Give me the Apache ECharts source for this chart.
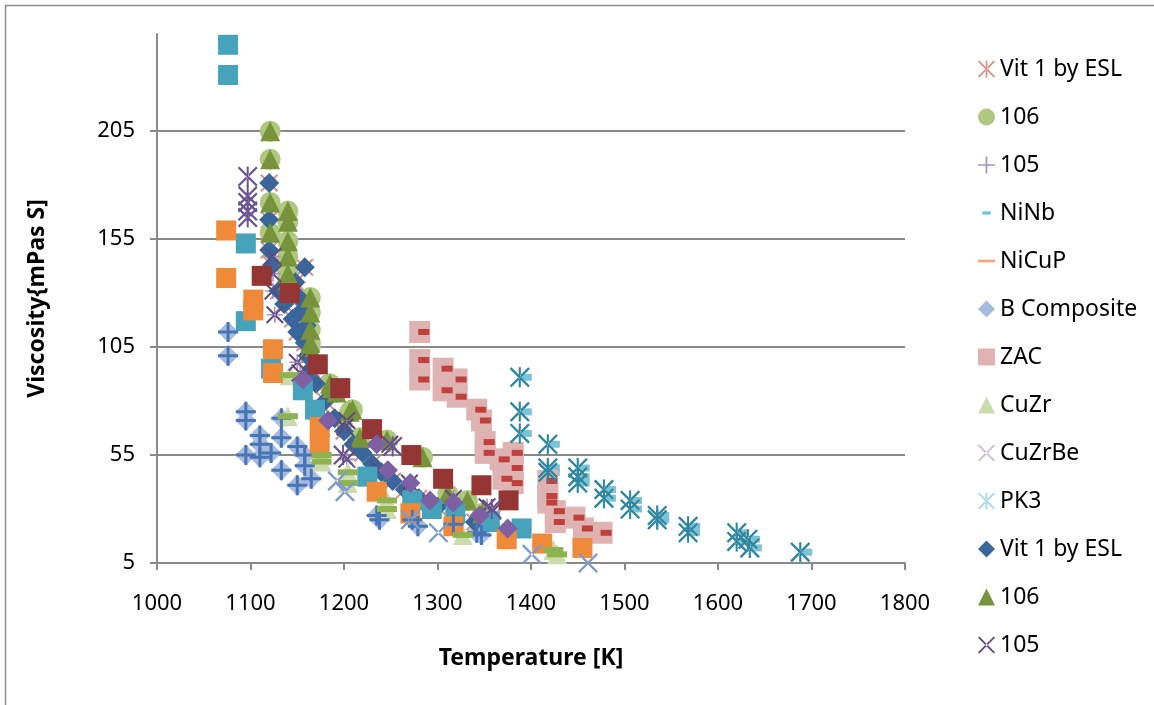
<!DOCTYPE html>
<html>
<head>
<meta charset="utf-8">
<script src="https://cdn.jsdelivr.net/npm/echarts@6/dist/echarts.min.js"></script>
<style>
    html, body { margin: 0; padding: 0; background: #fff; }
    #chart { width: 1154px; height: 705px; }
</style>
</head>
<body>
<div id="chart"></div>
<script>
// values: [Temperature K, Viscosity mPas s]
var vitEsl = [[1120,181],[1120,164],[1120,150],[1123,143],[1130,131],[1136,125],[1145,118],[1148,135],[1150,112],[1152,128],[1155,122],[1158,142],[1158,107],[1160,115],[1161,101],[1165,95],[1170,88],[1180,80],[1190,72],[1200,66],[1210,60],[1220,56],[1230,51],[1240,47],[1252,43],[1265,39],[1280,35],[1300,31],[1320,27],[1340,24]];
var g106 = [[1121,205],[1121,192],[1121,172],[1121,158],[1140,168],[1140,163],[1140,154],[1140,147],[1140,139],[1140,136],[1164,128],[1164,121],[1164,113],[1164,107],[1164,105],[1185,88],[1187,86],[1192,84],[1206,75],[1209,76],[1217,63],[1246,62],[1284,54],[1311,37],[1332,34],[1348,28]];
var p105x = [[1124,147],[1124,139],[1124,131],[1126,120],[1150,98],[1153,93],[1201,68],[1203,71],[1203,53],[1238,48],[1249,60],[1270,42],[1317,35],[1353,31],[1359,29]];
var p105star = [[1097,184],[1097,175],[1097,172],[1097,168],[1097,165],[1199,55],[1252,59],[1358,30]];
var p105dia = [[1156,90],[1183,71],[1235,60],[1247,48],[1271,42],[1292,34],[1317,33],[1345,27],[1375,21]];
var niNb = [[1076,245],[1076,231],[1095,153],[1095,117],[1122,95],[1156,85],[1169,76],[1225,45],[1273,34],[1294,30],[1319,28],[1356,24],[1390,21]];
var niCuP = [[1074,159],[1074,137],[1103,127],[1103,122],[1124,104],[1124,93],[1174,68],[1174,60],[1235,38],[1271,28],[1317,22],[1374,16],[1412,14],[1455,12]];
var bComp = [[1076,112],[1076,101],[1095,75],[1095,71],[1095,55],[1110,64],[1110,60],[1110,54],[1122,56],[1133,72],[1133,63],[1133,48],[1150,59],[1150,41],[1158,55],[1158,50],[1165,44],[1235,27],[1238,25],[1273,25],[1279,22],[1317,23],[1342,19],[1347,18]];
var zac = [[1281,112],[1281,99],[1281,90],[1306,95],[1306,85],[1321,90],[1321,82],[1342,76],[1347,71],[1351,61],[1351,56],[1367,53],[1370,44],[1381,56],[1381,49],[1381,42],[1418,43],[1418,36],[1418,33],[1426,29],[1426,24],[1447,26],[1456,21],[1476,19]];
var zacDark = [[1112,138],[1142,130],[1172,97],[1196,86],[1230,67],[1272,55],[1306,44],[1347,41],[1376,34]];
var cuZr = [[1142,92],[1140,73],[1176,55],[1176,52],[1204,47],[1204,42],[1246,34],[1246,30],[1327,18],[1424,11],[1428,9]];
var cuZrBe = [[1193,43],[1201,38],[1271,25],[1301,19],[1401,9],[1461,5]];
var pk3 = [[1388,91],[1388,75],[1388,65],[1418,60],[1418,49],[1418,47],[1450,49],[1450,45],[1450,42],[1478,39],[1478,35],[1506,34],[1506,30],[1535,27],[1535,25],[1568,22],[1568,19],[1620,19],[1620,15],[1632,16],[1634,12],[1688,10]];
var yTicks = [5, 55, 105, 155, 205];

// marker shapes (20x20 box)
var SYM_X = 'path://M0,1.6L1.6,0L20,18.4L18.4,20ZM20,1.6L18.4,0L0,18.4L1.6,20Z';
var SYM_STAR = SYM_X + 'M9,0H11V20H9Z';
var SYM_PLUS = 'path://M9,0H11V20H9ZM0,9H20V11H0Z';
var SYM_PLUS_BOLD = 'path://M8.5,0H11.5V20H8.5ZM0,8.5H20V11.5H0Z';
var DASH_SHORT = 'path://M0,0L0,0M20,20L20,20M5,8H15V12H5Z';
var DASH_LONG = 'path://M0,0L0,0M20,20L20,20M0,8.5H20V11.5H0Z';

var FONT = "'Noto Sans', 'Open Sans', sans-serif";
var GRAY = '#898989';

var sc = function (name, data, symbol, size, color, offset) {
    var s = {
        type: 'scatter',
        name: name,
        data: data,
        symbol: symbol,
        symbolSize: size,
        itemStyle: { color: color, opacity: 1 },
        emphasis: { disabled: true },
        silent: true
    };
    if (offset) s.symbolOffset = offset;
    return s;
};

var series = [
    sc('Vit 1 by ESL', vitEsl, SYM_STAR, 18, '#D9908D'),
    sc('106', g106, 'circle', 21, '#AEC97F'),
    sc('105', p105x, SYM_PLUS, 16, '#A593C1'),
    sc('NiNb', pk3, 'rect', [10, 7], '#7CC3D6', [7, 0]),
    sc('NiCuP', niCuP, 'rect', [16, 4], '#F9A76F'),
    sc('B Composite', bComp, 'diamond', 21, '#A7BCDC'),
    sc('ZAC', zac, 'rect', [21, 22], '#DEB3B2'),
    sc('CuZr', cuZr, 'triangle', 20, '#CBDBAE'),
    sc('CuZrBe', cuZrBe, SYM_X, 18, '#C8BED9'),
    sc('PK3', pk3, SYM_STAR, 20, '#A9D8E4'),
    sc('Vit 1 by ESL ', vitEsl, 'diamond', 20, '#3A6699'),
    sc('106 ', g106, 'triangle', 20, '#77933C'),
    sc('105 ', p105x, SYM_X, 18, '#5F4A7F'),
    // series past the end of the legend
    sc('NiNb sq', niNb, 'rect', 20, '#46A3BB'),
    sc('NiCuP sq', niCuP, 'rect', 20, '#EE8A3A'),
    sc('B Composite plus', bComp, SYM_PLUS_BOLD, 20, '#4775B5'),
    sc('CuZr dash', cuZr, 'rect', [20, 6], '#8FB350'),
    sc('CuZrBe x', cuZrBe, SYM_X, 20, '#7B9CD0'),
    sc('ZAC dash', zac, 'rect', [11, 6], '#C0403D', [4, 0]),
    sc('ZAC sq', zacDark, 'rect', 20, '#943634'),
    sc('PK3 dark', pk3, SYM_STAR, 20, '#2F869E'),
    sc('105 star', p105star, SYM_STAR, 20, '#6A5391'),
    sc('105 dia', p105dia, 'diamond', 20, '#7D5FA2')
];

var legendData = [
    { name: 'Vit 1 by ESL', icon: SYM_STAR },
    { name: '106', icon: 'circle' },
    { name: '105', icon: SYM_PLUS },
    { name: 'NiNb', icon: DASH_SHORT },
    { name: 'NiCuP', icon: DASH_LONG },
    { name: 'B Composite', icon: 'diamond' },
    { name: 'ZAC', icon: 'rect' },
    { name: 'CuZr', icon: 'triangle' },
    { name: 'CuZrBe', icon: SYM_X },
    { name: 'PK3', icon: SYM_STAR },
    { name: 'Vit 1 by ESL ', icon: 'diamond' },
    { name: '106 ', icon: 'triangle' },
    { name: '105 ', icon: SYM_X }
];

var chart = echarts.init(document.getElementById('chart'), null, { renderer: 'canvas' });
chart.setOption({
    animation: false,
    backgroundColor: '#fff',
    textStyle: { fontFamily: FONT },
    graphic: [{
        type: 'rect',
        shape: { x: 5.5, y: 5.5, width: 1300, height: 900 },
        style: { fill: 'none', stroke: '#8c8c8c', lineWidth: 1.5 },
        silent: true
    }],
    grid: { left: 157, right: 249, top: 34, bottom: 142 },
    legend: {
        orient: 'vertical',
        left: 973,
        top: 52,
        itemWidth: 17,
        itemHeight: 17,
        itemGap: 24,
        selectedMode: false,
        data: legendData,
        textStyle: { fontFamily: FONT, fontSize: 23, color: '#000', lineHeight: 24 }
    },
    xAxis: {
        type: 'value',
        min: 1000,
        max: 1800,
        interval: 100,
        name: 'Temperature [K]',
        nameLocation: 'middle',
        nameGap: 84,
        nameTextStyle: { fontFamily: FONT, fontSize: 23, fontWeight: 'bold', color: '#000' },
        axisLine: { show: true, lineStyle: { color: GRAY, width: 2 } },
        axisTick: { show: true, inside: false, length: 7, lineStyle: { color: GRAY, width: 2 } },
        axisLabel: {
            fontFamily: FONT, fontSize: 22, color: '#000', margin: 30,
            formatter: function (v) { return String(v); }
        },
        splitLine: { show: false }
    },
    yAxis: {
        type: 'value',
        min: 5,
        max: 250,
        interval: 50,
        name: 'Viscosity{mPas S]',
        nameLocation: 'middle',
        nameGap: 108,
        nameTextStyle: { fontFamily: FONT, fontSize: 23, fontWeight: 'bold', color: '#000' },
        axisLine: { show: true, lineStyle: { color: GRAY, width: 2 } },
        axisTick: { show: true, length: 7, customValues: yTicks, lineStyle: { color: GRAY, width: 2 } },
        axisLabel: { fontFamily: FONT, fontSize: 22, color: '#000', margin: 22, customValues: yTicks },
        splitLine: { show: true, lineStyle: { color: GRAY, width: 2 } }
    },
    series: series
});
</script>
</body>
</html>
